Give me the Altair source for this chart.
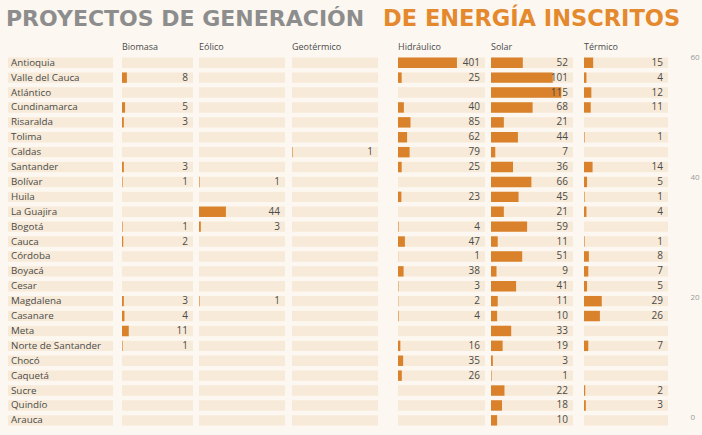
import altair as alt
import pandas as pd

departamentos = [
    "Antioquia", "Valle del Cauca", "Atlántico", "Cundinamarca", "Risaralda",
    "Tolima", "Caldas", "Santander", "Bolívar", "Huila", "La Guajira", "Bogotá",
    "Cauca", "Córdoba", "Boyacá", "Cesar", "Magdalena", "Casanare", "Meta",
    "Norte de Santander", "Chocó", "Caquetá", "Sucre", "Quindío", "Arauca",
]
tecnologias = ["Biomasa", "Eólico", "Geotérmico", "Hidráulico", "Solar", "Térmico"]

N = None
biomasa = [N, 8, N, 5, 3, N, N, 3, 1, N, N, 1, 2, N, N, N, 3, 4, 11, 1, N, N, N, N, N]
eolico = [N, N, N, N, N, N, N, N, 1, N, 44, 3, N, N, N, N, 1, N, N, N, N, N, N, N, N]
geotermico = [N, N, N, N, N, N, 1, N, N, N, N, N, N, N, N, N, N, N, N, N, N, N, N, N, N]
hidraulico = [401, 25, N, 40, 85, 62, 79, 25, N, 23, N, 4, 47, 1, 38, 3, 2, 4, N, 16, 35, 26, N, N, N]
solar = [52, 101, 115, 68, 21, 44, 7, 36, 66, 45, 21, 59, 11, 51, 9, 41, 11, 10, 33, 19, 3, 1, 22, 18, 10]
termico = [15, 4, 12, 11, N, 1, N, 14, 5, 1, 4, N, 1, 8, 7, 5, 29, 26, N, 7, N, N, 2, 3, N]

eje_derecho = [0, 20, 40, 60]

titulo_gris = "PROYECTOS DE GENERACIÓN"
titulo_naranja = "DE ENERGÍA INSCRITOS"

series = dict(zip(tecnologias, [biomasa, eolico, geotermico, hidraulico, solar, termico]))

# ---- styling ----
FONT = "Open Sans"
TITLE_FONT = "DejaVu Sans"
ORANGE = "#d9822b"
CELL = "#f7ead8"
BG = "#fcf8f1"
TXT = "#4a4a4a"

col_px = {
    "Biomasa": (122, 193),
    "Eólico": (199, 285),
    "Geotérmico": (292, 378),
    "Hidráulico": (398, 485),
    "Solar": (491, 573),
    "Térmico": (584, 668),
}
px_per_unit = {"Hidráulico": 0.147}
default_ppu = 0.612

Y = alt.Y(
    "dep:N",
    scale=alt.Scale(domain=departamentos, range=[55.3, 427.8], paddingInner=0.3, paddingOuter=0.15),
    axis=None,
)

dept_df = pd.DataFrame({"dep": departamentos})
layers = []

# label column
xs_lab = alt.Scale(domain=[0, 1], range=[8, 113])
layers.append(
    alt.Chart(dept_df).mark_bar(color=CELL).encode(
        y=Y,
        x=alt.XDatum(0, type="quantitative", scale=xs_lab, axis=None),
        x2=alt.X2Datum(1),
    )
)
layers.append(
    alt.Chart(dept_df).mark_text(align="left", baseline="middle", dx=3, font=FONT, fontSize=9.8, color=TXT).encode(
        y=Y,
        x=alt.XDatum(0, type="quantitative", scale=xs_lab, axis=None),
        text="dep:N",
    )
)

for tech in tecnologias:
    start, end = col_px[tech]
    ppu = px_per_unit.get(tech, default_ppu)
    dmax = (end - start) / ppu
    xs = alt.Scale(domain=[0, dmax], range=[start, end], zero=True, nice=False)
    df = pd.DataFrame({"dep": departamentos, "v": series[tech]}).dropna()
    layers.append(
        alt.Chart(dept_df).mark_bar(color=CELL).encode(
            y=Y,
            x=alt.XDatum(0, type="quantitative", scale=xs, axis=None),
            x2=alt.X2Datum(dmax),
        )
    )
    layers.append(
        alt.Chart(df).mark_bar(color=ORANGE).encode(
            y=Y,
            x=alt.X("v:Q", scale=xs, axis=None),
        )
    )
    layers.append(
        alt.Chart(df).mark_text(align="right", baseline="middle", dx=-5, font=FONT, fontSize=10, color=TXT).encode(
            y=Y,
            x=alt.XDatum(dmax, type="quantitative", scale=xs, axis=None),
            text=alt.Text("v:Q", format="d"),
        )
    )
    layers.append(
        alt.Chart(pd.DataFrame({"t": [tech]})).mark_text(
            align="left", baseline="middle", font=FONT, fontSize=9, color=TXT
        ).encode(
            x=alt.XDatum(0, type="quantitative", scale=xs, axis=None),
            y=alt.value(47),
            text="t:N",
        )
    )

# titles
layers.append(
    alt.Chart(pd.DataFrame({"t": [titulo_gris]})).mark_text(
        align="left", baseline="middle", font=TITLE_FONT, fontSize=22, fontWeight="bold", color="#8d8d8d"
    ).encode(x=alt.value(6), y=alt.value(19), text="t:N")
)
layers.append(
    alt.Chart(pd.DataFrame({"t": [titulo_naranja]})).mark_text(
        align="left", baseline="middle", font=TITLE_FONT, fontSize=22.5, fontWeight="bold", color="#e4892d"
    ).encode(x=alt.value(383), y=alt.value(19), text="t:N")
)

# stray right axis
layers.append(
    alt.Chart(pd.DataFrame({"v": eje_derecho})).mark_point(opacity=0).encode(
        y=alt.Y(
            "v:Q",
            scale=alt.Scale(domain=[0, 60], range=[417, 57]),
            axis=alt.Axis(
                orient="right", values=eje_derecho, ticks=False, domain=False, grid=False,
                labelFontSize=8, labelColor="#999999", labelFont=FONT, offset=-12, labelPadding=0,
                title=None,
            ),
        ),
        x=alt.value(695),
    )
)

chart = (
    alt.layer(*layers)
    .resolve_scale(x="independent", y="independent")
    .properties(width=702, height=435, autosize="none", padding=0, background=BG)
    .configure_view(stroke=None)
)

chart.save("out.html", embed_options={"renderer": "svg", "actions": False})
